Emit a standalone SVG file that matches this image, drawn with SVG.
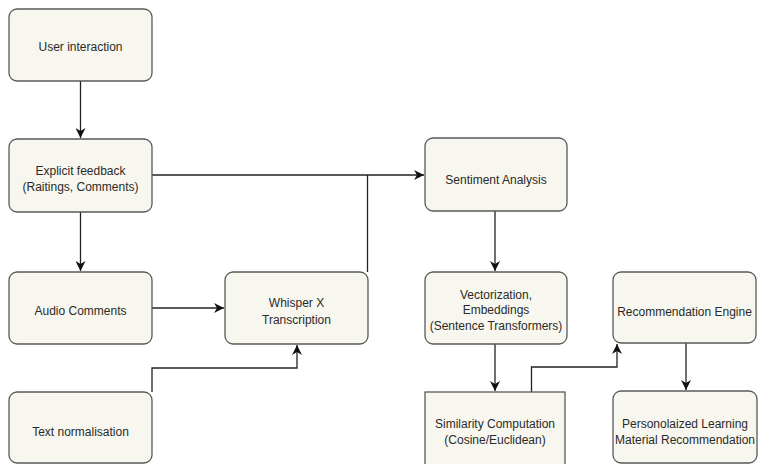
<svg xmlns="http://www.w3.org/2000/svg" width="759" height="464" viewBox="0 0 759 464">
<defs>
<marker id="arr" markerUnits="userSpaceOnUse" markerWidth="12" markerHeight="10" refX="10" refY="5" orient="auto">
<path d="M0,0 L10,5 L0,10 L3,5 Z" fill="#111"/>
</marker>
<style>
.box{fill:#f8f7ef;stroke:#5a5a5a;stroke-width:1.3}
.lbl{font-family:"Liberation Sans",Arial,sans-serif;font-size:12px;fill:#2a2a2a;text-anchor:middle}
.edge{fill:none;stroke:#222;stroke-width:1.3}
</style>
</defs>
<rect width="759" height="464" fill="#ffffff"/>
<g id="connectors">
<path class="edge" d="M80.5,81 V138" marker-end="url(#arr)"/>
<path class="edge" d="M152,175 H424" marker-end="url(#arr)"/>
<path class="edge" d="M367.5,272 V175"/>
<path class="edge" d="M80.5,212 V271" marker-end="url(#arr)"/>
<path class="edge" d="M152,308 H224" marker-end="url(#arr)"/>
<path class="edge" d="M152,392 V368 H297 V345" marker-end="url(#arr)"/>
<path class="edge" d="M495,211 V271" marker-end="url(#arr)"/>
<path class="edge" d="M495,344 V391" marker-end="url(#arr)"/>
<path class="edge" d="M531.5,392 V367 H617 V344" marker-end="url(#arr)"/>
<path class="edge" d="M686,343 V390" marker-end="url(#arr)"/>
</g>
<g id="user-interaction">
<rect class="box" x="9" y="9" width="143" height="72" rx="8"/>
<text class="lbl" x="80.5" y="51">User interaction</text>
</g>
<g id="explicit-feedback">
<rect class="box" x="9" y="139" width="143" height="73" rx="8"/>
<text class="lbl" x="80.5" y="175">Explicit feedback</text>
<text class="lbl" x="80.5" y="191">(Raitings, Comments)</text>
</g>
<g id="audio-comments">
<rect class="box" x="9" y="272" width="143" height="72" rx="8"/>
<text class="lbl" x="80.5" y="315">Audio Comments</text>
</g>
<g id="text-normalisation">
<rect class="box" x="9" y="392" width="143" height="71" rx="8"/>
<text class="lbl" x="80.5" y="436">Text normalisation</text>
</g>
<g id="whisper-x">
<rect class="box" x="225" y="272" width="143" height="72" rx="8"/>
<text class="lbl" x="296.5" y="306.5">Whisper X</text>
<text class="lbl" x="296.5" y="323.5">Transcription</text>
</g>
<g id="sentiment-analysis">
<rect class="box" x="425" y="138" width="142" height="73" rx="8"/>
<text class="lbl" x="496" y="183.5">Sentiment Analysis</text>
</g>
<g id="vectorization">
<rect class="box" x="425" y="272" width="142" height="72" rx="8"/>
<text class="lbl" x="496" y="298.5">Vectorization,</text>
<text class="lbl" x="496" y="314">Embeddings</text>
<text class="lbl" x="496" y="329.5">(Sentence Transformers)</text>
</g>
<g id="similarity-computation">
<rect class="box" x="425" y="392" width="140" height="80"/>
<text class="lbl" x="495" y="428">Similarity Computation</text>
<text class="lbl" x="495" y="444">(Cosine/Euclidean)</text>
</g>
<g id="recommendation-engine">
<rect class="box" x="613" y="272" width="143" height="71" rx="8"/>
<text class="lbl" x="684.5" y="316">Recommendation Engine</text>
</g>
<g id="personalized-recommendation">
<rect class="box" x="613" y="391" width="144" height="72" rx="8"/>
<text class="lbl" x="685" y="428">Personolaized Learning</text>
<text class="lbl" x="685" y="444">Material Recommendation</text>
</g>
</svg>
